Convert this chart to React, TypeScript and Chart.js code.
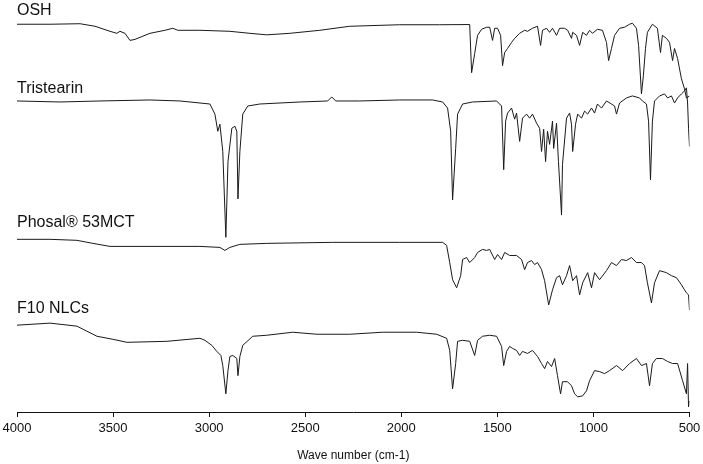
import React, { useEffect, useRef } from "react";
import { Chart, registerables } from "chart.js";

Chart.register(...registerables);

// Wavenumbers (cm-1) and relative transmittance (stacked, arbitrary units)
const oshWn = [4000, 3828, 3672, 3594, 3516, 3480, 3464, 3438, 3412, 3386, 3360, 3308, 3230, 3189, 3163, 3048, 2892, 2788, 2700, 2580, 2424, 2268, 2008, 1800, 1644, 1634, 1618, 1603, 1582, 1556, 1540, 1525, 1514, 1499, 1483, 1473, 1462, 1447, 1426, 1410, 1384, 1358, 1343, 1317, 1291, 1275, 1265, 1244, 1228, 1213, 1192, 1176, 1150, 1134, 1114, 1108, 1088, 1072, 1056, 1036, 1020, 1005, 979, 953, 932, 921, 906, 890, 864, 838, 812, 797, 776, 765, 750, 740, 729, 719, 693, 667, 651, 641, 620, 604, 588, 578, 562, 542, 526, 516, 500];
const oshT = [383, 383, 383.5, 381, 376, 374, 376, 374, 367, 368, 370, 374, 377, 379, 377, 377, 376, 374, 372.5, 374, 377, 381, 382.5, 382.5, 382.7, 335, 354, 372, 378, 380, 380, 367, 379, 379, 372, 342, 355, 359, 365, 369, 374, 377, 376, 379, 381, 362, 377, 379, 375, 379, 372, 379, 379, 377, 369, 375, 372, 362, 375, 372, 377, 374, 378, 377, 365, 347, 359, 372, 379, 380, 383, 384, 379, 362, 314, 332, 359, 375, 383, 379, 355, 372, 369, 365, 347, 359, 349, 329, 319, 310, 312];

const triWn = [4000, 3776, 3568, 3308, 3152, 2996, 2970, 2955, 2944, 2929, 2913, 2902, 2882, 2866, 2856, 2850, 2840, 2825, 2799, 2736, 2528, 2383, 2362, 2341, 2216, 2008, 1837, 1785, 1759, 1743, 1733, 1717, 1707, 1681, 1629, 1504, 1478, 1467, 1457, 1447, 1426, 1410, 1400, 1384, 1369, 1348, 1332, 1317, 1296, 1280, 1270, 1259, 1249, 1239, 1228, 1213, 1207, 1192, 1182, 1166, 1161, 1140, 1124, 1114, 1108, 1093, 1082, 1062, 1046, 1030, 1010, 994, 979, 958, 932, 906, 890, 880, 864, 828, 797, 760, 745, 724, 713, 703, 693, 682, 656, 630, 614, 594, 578, 562, 542, 526, 516, 510, 505, 500];
const triT = [307, 306, 307, 308, 307, 304, 294, 277, 284, 257, 172, 247, 280, 282, 277, 210, 257, 294, 302, 304, 306, 307, 311, 307, 307, 308, 308, 306, 300, 277, 209, 260, 294, 304, 306, 307, 302, 239, 287, 295, 300, 289, 295, 267, 290, 294, 290, 294, 285, 280, 257, 279, 247, 277, 264, 287, 260, 285, 247, 194, 244, 290, 295, 284, 257, 284, 294, 290, 297, 294, 300, 295, 304, 300, 307, 304, 302, 294, 305, 310, 312, 310, 307, 304, 287, 229, 287, 307, 312, 314, 310, 312, 305, 310, 314, 317, 320, 305, 280, 262];

const phoWn = [4000, 3828, 3688, 3605, 3516, 3308, 3048, 2944, 2918, 2892, 2840, 2700, 2357, 2008, 1785, 1764, 1748, 1733, 1712, 1691, 1681, 1660, 1644, 1618, 1603, 1577, 1556, 1540, 1514, 1499, 1478, 1462, 1436, 1400, 1374, 1358, 1343, 1322, 1306, 1291, 1270, 1254, 1233, 1213, 1192, 1176, 1161, 1140, 1124, 1108, 1088, 1072, 1056, 1030, 1010, 994, 968, 932, 906, 880, 854, 828, 802, 776, 750, 734, 719, 698, 682, 656, 620, 594, 568, 542, 526, 516, 505, 500];
const phoT = [170, 170, 169, 166, 163, 163, 163, 162, 159, 162, 165, 166, 167, 167, 167, 164, 147, 130, 122, 134, 150, 152, 147, 152, 157, 160, 159, 160, 150, 155, 150, 157, 154, 154, 150, 140, 147, 149, 145, 147, 140, 129, 105, 120, 132, 134, 125, 134, 144, 129, 134, 115, 127, 137, 122, 137, 130, 139, 147, 144, 150, 149, 152, 147, 147, 144, 127, 107, 127, 139, 137, 134, 132, 125, 120, 117, 115, 100];

const nlcWn = [4000, 3828, 3688, 3636, 3584, 3501, 3428, 3220, 3048, 3022, 2986, 2960, 2939, 2929, 2913, 2902, 2892, 2877, 2856, 2850, 2840, 2825, 2773, 2700, 2565, 2440, 2268, 2097, 1920, 1816, 1764, 1748, 1733, 1717, 1707, 1681, 1644, 1618, 1603, 1577, 1540, 1504, 1478, 1467, 1452, 1436, 1421, 1400, 1384, 1369, 1343, 1317, 1291, 1270, 1254, 1239, 1218, 1202, 1187, 1171, 1161, 1135, 1114, 1098, 1082, 1056, 1036, 1020, 994, 968, 942, 916, 880, 848, 812, 776, 750, 724, 708, 693, 672, 641, 614, 588, 562, 536, 516, 510, 505, 500];
const nlcT = [85, 87, 84, 79, 74, 71, 68, 69, 72, 70, 65, 59, 55, 45, 17, 40, 54, 55, 52, 35, 54, 65, 74, 75, 78, 76, 76, 78, 78, 76, 72, 60, 22, 47, 69, 70, 69, 55, 70, 74, 75, 74, 64, 45, 59, 64, 62, 60, 55, 59, 57, 60, 54, 47, 42, 49, 44, 52, 35, 17, 29, 29, 25, 17, 14, 15, 20, 30, 40, 39, 37, 40, 45, 40, 47, 52, 45, 47, 25, 47, 52, 52, 49, 47, 47, 30, 17, 47, 4, 10];

const seriesNames = ["OSH", "Tristearin", "Phosal® 53MCT", "F10 NLCs"];
const seriesWn = [oshWn, triWn, phoWn, nlcWn];
const seriesT = [oshT, triT, phoT, nlcT];
// vertical anchor (same units as the traces) for each trace name
const nameLevels = [392, 315, 182, 97];

const xTicks = [4000, 3500, 3000, 2500, 2000, 1500, 1000, 500];
const xTitle = "Wave number (cm-1)";

const FONT = "'Liberation Sans', Arial, sans-serif";

export default function App() {
  const ref = useRef<HTMLCanvasElement | null>(null);

  useEffect(() => {
    if (!ref.current) return;
    const namePlugin = {
      id: "traceNames",
      afterDatasetsDraw(chart: any) {
        const { ctx, scales } = chart;
        const xs = scales.x;
        const ys = scales.y;
        ctx.save();
        ctx.fillStyle = "#111";
        ctx.font = `16px ${FONT}`;
        ctx.textAlign = "left";
        ctx.textBaseline = "alphabetic";
        seriesNames.forEach((n, i) => {
          ctx.fillText(n, xs.getPixelForValue(4000), ys.getPixelForValue(nameLevels[i]));
        });
        ctx.restore();
      },
    };

    const chart = new Chart(ref.current, {
      type: "line",
      data: {
        datasets: seriesNames.map((n, i) => ({
          label: n,
          data: seriesWn[i].map((w, j) => ({ x: w, y: seriesT[i][j] })),
          borderColor: "#1a1a1a",
          borderWidth: 1,
          pointRadius: 0,
          tension: 0,
          fill: false,
        })),
      },
      options: {
        responsive: false,
        animation: false,
        layout: { padding: { left: 17, right: 13.5, top: 0, bottom: 1 } },
        plugins: { legend: { display: false }, tooltip: { enabled: false } },
        scales: {
          x: {
            type: "linear",
            reverse: true,
            min: 500,
            max: 4000,
            afterBuildTicks: (axis: any) => {
              axis.ticks = xTicks.map((v) => ({ value: v }));
            },
            afterFit: (axis: any) => {
              axis.paddingLeft = 0;
              axis.paddingRight = 0;
            },
            ticks: {
              callback: (v: any) => String(v),
              color: "#111",
              font: { family: FONT, size: 13 },
              padding: 4,
              maxRotation: 0,
              autoSkip: false,
            },
            grid: {
              display: true,
              drawOnChartArea: false,
              drawTicks: true,
              tickLength: 5,
              color: "#111",
            },
            border: { display: true, color: "#111", width: 1 },
            title: {
              display: true,
              text: xTitle,
              color: "#111",
              font: { family: FONT, size: 12 },
              padding: { top: 8, bottom: 0 },
            },
          },
          y: {
            display: false,
            min: -1,
            max: 407,
          },
        },
      },
      plugins: [namePlugin],
    });
    return () => chart.destroy();
  }, []);

  return (
    <div style={{ position: "fixed", left: 0, top: 0, width: 703, height: 464, background: "#fff" }}>
      <canvas ref={ref} width={703} height={464} />
    </div>
  );
}
